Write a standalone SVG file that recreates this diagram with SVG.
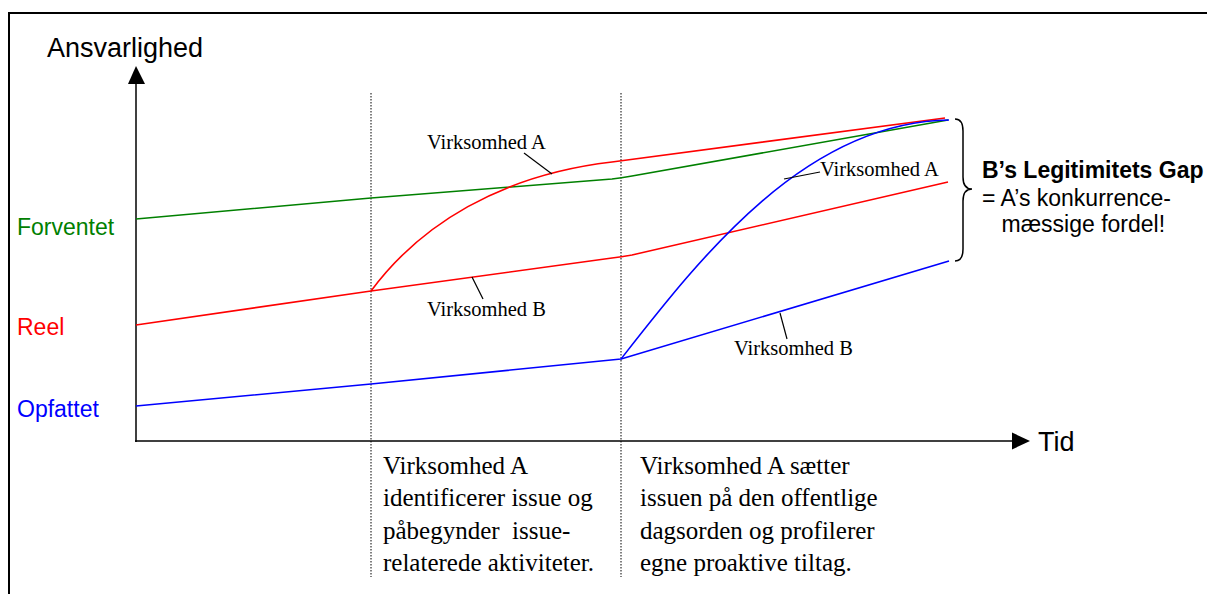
<svg xmlns="http://www.w3.org/2000/svg" width="1207" height="594" viewBox="0 0 1207 594">
<style>
.sans{font-family:"Liberation Sans",Arial,sans-serif}
.serif{font-family:"Liberation Serif","Times New Roman",serif}
.ax{stroke:#000;stroke-width:1.5;fill:none}
.dot{stroke:#000;stroke-width:1;stroke-dasharray:1.5,1.5;fill:none}
.c{fill:none;stroke-width:1.6;stroke-linejoin:round}
.g{stroke:#008000}.r{stroke:#ff0000}.b{stroke:#0000ff}
.ld{stroke:#000;stroke-width:1.2}
.lbl{font-size:20.5px;fill:#000}
.desc{font-size:25px;fill:#000}
</style>
<rect width="1207" height="594" fill="#fff"/>
<path d="M9,594 V13 H1207" fill="none" stroke="#000" stroke-width="2"/>
<g id="axes">
<line class="ax" x1="136" y1="442" x2="136" y2="82"/>
<polygon points="136,66 128,84 145,84" fill="#000"/>
<line class="ax" x1="135" y1="441" x2="1014" y2="441"/>
<polygon points="1030,441 1012,432.5 1012,449.5" fill="#000"/>
<text class="sans" x="47" y="57" font-size="27">Ansvarlighed</text>
<text class="sans" x="1038" y="451" font-size="27">Tid</text>
<text class="sans" x="17" y="235" font-size="23" fill="#008000">Forventet</text>
<text class="sans" x="17" y="335" font-size="23" fill="#ff0000">Reel</text>
<text class="sans" x="17" y="417" font-size="23" fill="#0000ff">Opfattet</text>
</g>
<g id="dividers">
<line class="dot" x1="371" y1="93" x2="371" y2="577"/>
<line class="dot" x1="621" y1="93" x2="621" y2="577"/>
</g>
<g id="connectors">
<path class="c g" d="M136,219 L371,198 L612,179 Q621,178 632,176 L948,120"/>
<path class="c r" d="M136,325 L371,291 L612,258 Q621,257 632,255 L948,182"/>
<path class="c r" d="M371,291 C420,225 500,175 612,162 L945,118"/>
<path class="c b" d="M136,406 L371,384 L621,359 L949,261"/>
<path class="c b" d="M621,359 C700,258 805,122 949,120"/>
<line class="ld" x1="524" y1="153" x2="552" y2="174"/>
<line class="ld" x1="472" y1="277" x2="483" y2="299"/>
<line class="ld" x1="784" y1="179" x2="820" y2="172"/>
<line class="ld" x1="780" y1="313" x2="787" y2="339"/>
</g>
<g id="curve-labels">
<text class="serif lbl" x="427" y="149">Virksomhed A</text>
<text class="serif lbl" x="427" y="316">Virksomhed B</text>
<text class="serif lbl" x="820" y="176">Virksomhed A</text>
<text class="serif lbl" x="734" y="355">Virksomhed B</text>
</g>
<g id="gap">
<path d="M955,119 Q963,119 963,131 L963,177 Q963,189 972,189 Q963,189 963,201 L963,249 Q963,261 955,261" fill="none" stroke="#000" stroke-width="1.5"/>
<text class="sans" x="982" y="178" font-size="23" font-weight="bold">B’s Legitimitets Gap</text>
<text class="sans" x="982" y="206" font-size="23">= A’s konkurrence-</text>
<text class="sans" x="1001.5" y="232" font-size="23">mæssige fordel!</text>
</g>
<g id="phase1">
<text class="serif desc" x="383" y="474">Virksomhed A</text>
<text class="serif desc" x="383" y="506">identificerer issue og</text>
<text class="serif desc" x="383" y="538.5" xml:space="preserve">påbegynder  issue-</text>
<text class="serif desc" x="383" y="570.5">relaterede aktiviteter.</text>
</g>
<g id="phase2">
<text class="serif desc" x="640" y="474">Virksomhed A sætter</text>
<text class="serif desc" x="640" y="506">issuen på den offentlige</text>
<text class="serif desc" x="640" y="538.5">dagsorden og profilerer</text>
<text class="serif desc" x="640" y="570.5">egne proaktive tiltag.</text>
</g>
</svg>
